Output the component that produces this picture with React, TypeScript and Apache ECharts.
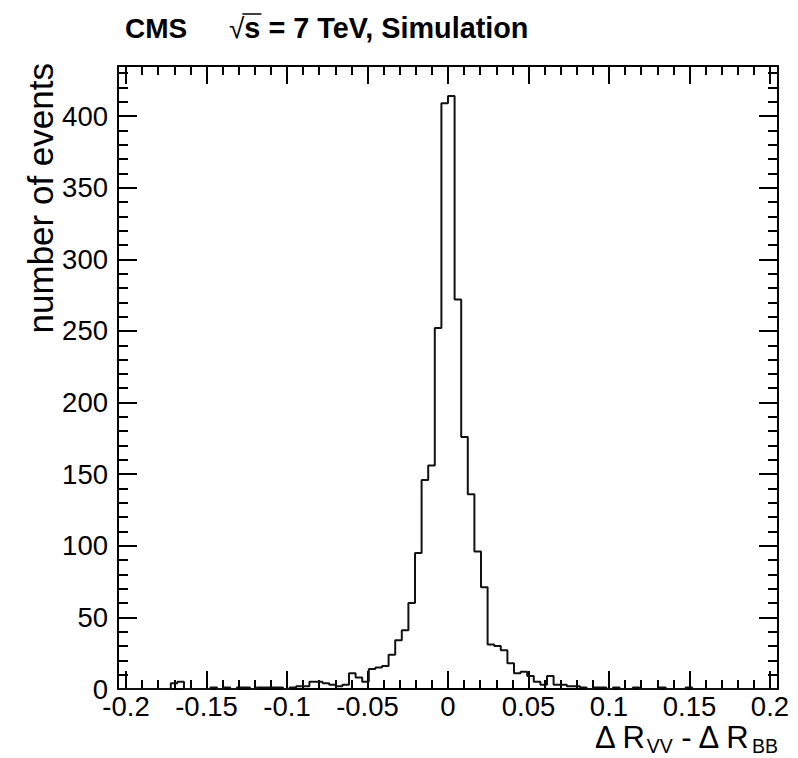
import React, { useEffect, useRef } from "react";
import * as echarts from "echarts";

// Histogram: 100 bins from -0.205 to 0.205
const BIN_LO = -0.205;
const BIN_HI = 0.205;
const COUNTS = [
  0, 0, 0, 0, 0, 0, 0, 0, 4, 5,
  0, 0, 0, 0, 1, 0, 1, 0, 1, 1,
  0, 1, 1, 1, 1, 0, 1, 2, 2, 5,
  5, 4, 3, 2, 3, 11, 8, 5, 14, 15,
  16, 24, 34, 41, 60, 95, 146, 156, 252, 409,
  414, 272, 176, 136, 96, 71, 31, 30, 27, 18,
  11, 12, 9, 5, 3, 9, 3, 3, 2, 2,
  1, 0, 1, 1, 0, 1, 0, 0, 1, 0,
  0, 0, 1, 0, 0, 0, 1, 0, 0, 0,
  0, 0, 0, 0, 0, 0, 0, 0, 0, 0,
];
const X_MAJOR = [-0.2, -0.15, -0.1, -0.05, 0, 0.05, 0.1, 0.15, 0.2];
const X_LABELS = ["-0.2", "-0.15", "-0.1", "-0.05", "0", "0.05", "0.1", "0.15", "0.2"];
const X_MINOR = [
  -0.2, -0.19, -0.18, -0.17, -0.16, -0.15, -0.14, -0.13, -0.12, -0.11, -0.1,
  -0.09, -0.08, -0.07, -0.06, -0.05, -0.04, -0.03, -0.02, -0.01, 0,
  0.01, 0.02, 0.03, 0.04, 0.05, 0.06, 0.07, 0.08, 0.09, 0.1,
  0.11, 0.12, 0.13, 0.14, 0.15, 0.16, 0.17, 0.18, 0.19, 0.2,
];
const Y_MAJOR = [0, 50, 100, 150, 200, 250, 300, 350, 400];
const Y_MINOR = [
  0, 10, 20, 30, 40, 50, 60, 70, 80, 90, 100, 110, 120, 130, 140, 150, 160, 170, 180, 190,
  200, 210, 220, 230, 240, 250, 260, 270, 280, 290, 300, 310, 320, 330, 340, 350, 360, 370,
  380, 390, 400, 410, 420, 430,
];
const Y_MAX = 435;
const TITLE_CMS = "CMS";
const TITLE_REST = "s = 7 TeV, Simulation";
const Y_TITLE = "number of events";

const FONT = '"Liberation Sans", Arial, Helvetica, sans-serif';

function measure(text: string, size: number, weight = "normal") {
  const c = document.createElement("canvas").getContext("2d")!;
  c.font = `${weight} ${size}px ${FONT}`;
  return c.measureText(text).width;
}

export default function App() {
  const ref = useRef<HTMLDivElement>(null);
  useEffect(() => {
    document.body.style.margin = "0";
    const chart = echarts.init(ref.current!, null, { renderer: "svg" });
    const nb = COUNTS.length;
    const w = (BIN_HI - BIN_LO) / nb;
    const data: number[][] = COUNTS.map((v, i) => [BIN_LO + i * w, v]);
    data.push([BIN_HI, COUNTS[nb - 1]]);

    const axisLine = { show: true, onZero: false, lineStyle: { color: "#000", width: 2 } };
    const noLine = { show: false, onZero: false };
    const tickStyle = { color: "#000", width: 2 };
    const lab = { fontSize: 27.5, color: "#000", fontFamily: FONT };

    const xAxisBase = { type: "value", min: BIN_LO, max: BIN_HI, splitLine: { show: false } };
    const yAxisBase = { type: "value", min: 0, max: Y_MAX, splitLine: { show: false } };

    // title pieces
    const tSize = 28;
    const rSize = 28.8;
    const cmsX = 125;
    const sqrtX = 229;
    const sqrtW = measure("√", tSize, "normal");
    const sX = sqrtX + sqrtW;
    const sW = measure("s", rSize, "bold");

    // x title pieces
    const big = 31;
    const small = 19.5;
    const p1 = "Δ R", p2 = "VV", p3 = " - Δ R", p4 = "BB";
    const w1 = measure(p1, big), w2 = measure(p2, small), w3 = measure(p3, big), w4 = measure(p4, small);
    const xr = 778;
    const x4 = xr - w4, x3 = x4 - w3, x2 = x3 - w2, x1 = x2 - w1;
    const baseY = 737;

    chart.setOption({
      animation: false,
      grid: { left: 118, right: 20, top: 66, bottom: 69, containLabel: false },
      xAxis: [
        {
          ...xAxisBase,
          position: "bottom",
          axisLine,
          axisTick: { show: true, inside: true, length: 18, lineStyle: tickStyle, customValues: X_MAJOR },
          axisLabel: {
            ...lab,
            margin: 3,
            customValues: X_MAJOR,
            formatter: (v: number) => {
              const i = X_MAJOR.findIndex((m) => Math.abs(m - v) < 1e-9);
              return i >= 0 ? X_LABELS[i] : "";
            },
          },
        },
        {
          ...xAxisBase,
          position: "bottom",
          axisLine: noLine,
          axisTick: { show: true, inside: true, length: 9, lineStyle: tickStyle, customValues: X_MINOR },
          axisLabel: { show: false },
        },
        {
          ...xAxisBase,
          position: "top",
          axisLine,
          axisTick: { show: true, inside: true, length: 18, lineStyle: tickStyle, customValues: X_MAJOR },
          axisLabel: { show: false },
        },
        {
          ...xAxisBase,
          position: "top",
          axisLine: noLine,
          axisTick: { show: true, inside: true, length: 9, lineStyle: tickStyle, customValues: X_MINOR },
          axisLabel: { show: false },
        },
      ],
      yAxis: [
        {
          ...yAxisBase,
          position: "left",
          axisLine,
          axisTick: { show: true, inside: true, length: 19, lineStyle: tickStyle, customValues: Y_MAJOR },
          axisLabel: { ...lab, margin: 10, customValues: Y_MAJOR },
        },
        {
          ...yAxisBase,
          position: "left",
          axisLine: noLine,
          axisTick: { show: true, inside: true, length: 10, lineStyle: tickStyle, customValues: Y_MINOR },
          axisLabel: { show: false },
        },
        {
          ...yAxisBase,
          position: "right",
          axisLine,
          axisTick: { show: true, inside: true, length: 19, lineStyle: tickStyle, customValues: Y_MAJOR },
          axisLabel: { show: false },
        },
        {
          ...yAxisBase,
          position: "right",
          axisLine: noLine,
          axisTick: { show: true, inside: true, length: 10, lineStyle: tickStyle, customValues: Y_MINOR },
          axisLabel: { show: false },
        },
      ],
      series: [
        {
          type: "line",
          xAxisIndex: 0,
          yAxisIndex: 0,
          step: "end",
          symbol: "none",
          data,
          lineStyle: { color: "#111", width: 2 },
          clip: false,
        },
      ],
      graphic: [
        {
          type: "text",
          x: cmsX,
          y: 28,
          style: { text: TITLE_CMS, fontSize: tSize, fontWeight: "bold", fontFamily: FONT, fill: "#000", align: "left", verticalAlign: "middle" },
        },
        {
          type: "text",
          x: sqrtX,
          y: 28,
          style: { text: "√", fontSize: tSize, fontFamily: FONT, fill: "#000", align: "left", verticalAlign: "middle" },
        },
        {
          type: "line",
          shape: { x1: sX - 2, y1: 14, x2: sX + sW + 1, y2: 14 },
          style: { stroke: "#000", lineWidth: 1.5 },
        },
        {
          type: "text",
          x: sX,
          y: 28,
          style: { text: TITLE_REST, fontSize: rSize, fontWeight: "bold", fontFamily: FONT, fill: "#000", align: "left", verticalAlign: "middle" },
        },
        {
          type: "text",
          x: 40,
          y: 63,
          rotation: Math.PI / 2,
          style: { text: Y_TITLE, fontSize: 35, fontFamily: FONT, fill: "#000", align: "right", verticalAlign: "middle" },
        },
        { type: "text", x: x1, y: baseY, style: { text: p1, fontSize: big, fontFamily: FONT, fill: "#000", align: "left", verticalAlign: "middle" } },
        { type: "text", x: x2, y: baseY + 9, style: { text: p2, fontSize: small, fontFamily: FONT, fill: "#000", align: "left", verticalAlign: "middle" } },
        { type: "text", x: x3, y: baseY, style: { text: p3, fontSize: big, fontFamily: FONT, fill: "#000", align: "left", verticalAlign: "middle" } },
        { type: "text", x: x4, y: baseY + 9, style: { text: p4, fontSize: small, fontFamily: FONT, fill: "#000", align: "left", verticalAlign: "middle" } },
      ],
    });
    return () => chart.dispose();
  }, []);
  return <div ref={ref} style={{ width: 798, height: 758, position: "absolute", left: 0, top: 0, background: "#fff" }} />;
}
